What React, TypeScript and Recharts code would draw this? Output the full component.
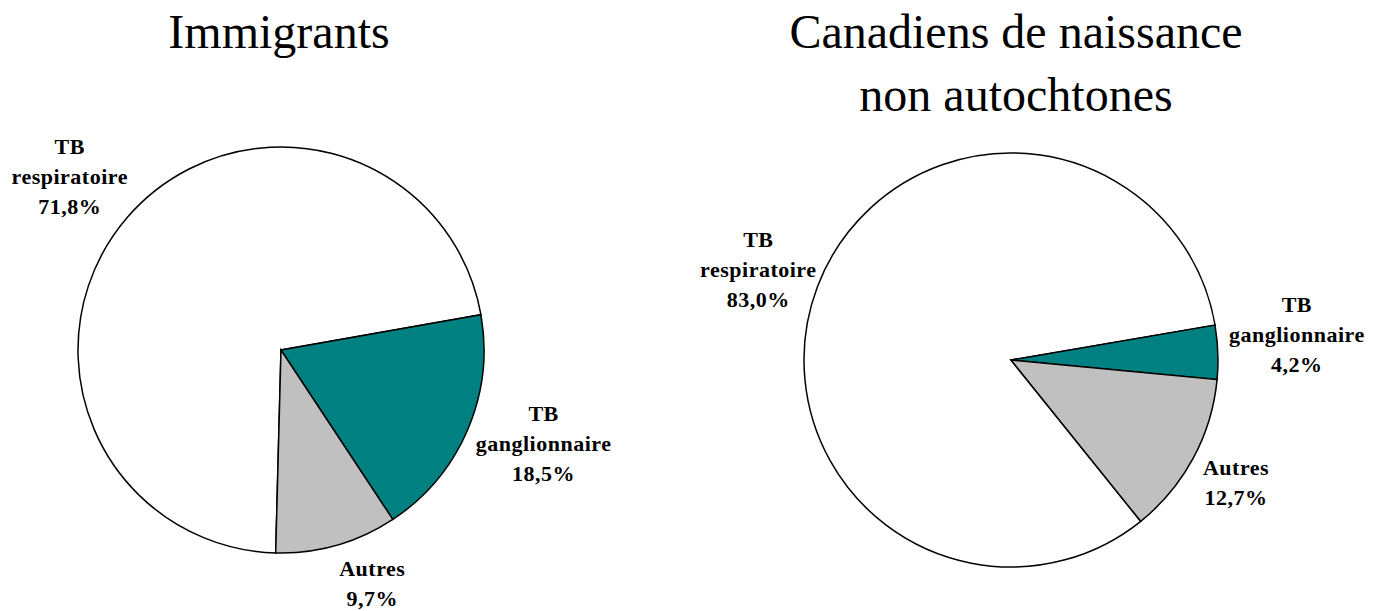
import { PieChart, Pie, Cell } from 'recharts';

const CATEGORIES = ['TB respiratoire', 'TB ganglionnaire', 'Autres'];
const IMMIGRANTS = [71.8, 18.5, 9.7];
const CANADIENS = [83.0, 4.2, 12.7];
const COLORS = ['#ffffff', '#008080', '#c0c0c0'];

// small nudges so labels land where the original placed them
const LEFT_NUDGE = [[-12, 6], [21, -3], [19, -12]];
const RIGHT_NUDGE = [[-3, 12], [19, -8], [-10, 3]];

const RAD = Math.PI / 180;
const LINE_H = 30;

const toRows = (values: number[]) =>
  CATEGORIES.map((name, i) => ({ name, value: values[i] }));

const makeLabel = (nudge: number[][]) => (props: any) => {
  const { cx, cy, midAngle, outerRadius, index, value, name } = props;
  const r = outerRadius + 60;
  const x = cx + r * Math.cos(-midAngle * RAD) + nudge[index][0];
  const y = cy + r * Math.sin(-midAngle * RAD) + nudge[index][1];
  const lines = [...String(name).split(' '), `${Number(value).toFixed(1).replace('.', ',')}%`];
  const top = y - ((lines.length - 1) * LINE_H) / 2;
  return (
    <text
      x={x}
      y={top}
      textAnchor="middle"
      fill="#000"
      fontFamily='"Liberation Serif", serif'
      fontWeight={700}
      fontSize={22}
      style={{ fontFamily: '"Liberation Serif", serif', fontWeight: 700, fontSize: 22, letterSpacing: 0.5 }}
    >
      {lines.map((ln, k) => (
        <tspan key={k} x={x} y={top + k * LINE_H}>
          {ln}
        </tspan>
      ))}
    </text>
  );
};

const titleStyle: React.CSSProperties = {
  position: 'absolute',
  top: 0,
  fontFamily: '"Liberation Serif", serif',
  fontSize: 48,
  lineHeight: '63px',
  textAlign: 'center',
  color: '#000',
};

export default function App() {
  const left = toRows(IMMIGRANTS);
  const right = toRows(CANADIENS);
  return (
    <div style={{ position: 'absolute', left: 0, top: 0, width: 1373, height: 611, background: '#fff' }}>
      <PieChart width={1373} height={611} margin={{ top: 0, right: 0, bottom: 0, left: 0 }}>
        <Pie
          data={left}
          dataKey="value"
          nameKey="name"
          cx={281}
          cy={350}
          outerRadius={203}
          startAngle={268.5}
          endAngle={-91.5}
          label={makeLabel(LEFT_NUDGE)}
          labelLine={false}
          isAnimationActive={false}
        >
          {left.map((_, i) => (
            <Cell key={`l-${i}`} fill={COLORS[i]} stroke="#000" strokeWidth={1.5} />
          ))}
        </Pie>
        <Pie
          data={right}
          dataKey="value"
          nameKey="name"
          cx={1011}
          cy={360}
          outerRadius={207}
          startAngle={308.8}
          endAngle={-51.2}
          label={makeLabel(RIGHT_NUDGE)}
          labelLine={false}
          isAnimationActive={false}
        >
          {right.map((_, i) => (
            <Cell key={`r-${i}`} fill={COLORS[i]} stroke="#000" strokeWidth={1.5} />
          ))}
        </Pie>
      </PieChart>
      <div style={{ ...titleStyle, left: 0, width: 558 }}>Immigrants</div>
      <div style={{ ...titleStyle, left: 716, width: 600 }}>
        Canadiens de naissance
        <br />
        non autochtones
      </div>
    </div>
  );
}
